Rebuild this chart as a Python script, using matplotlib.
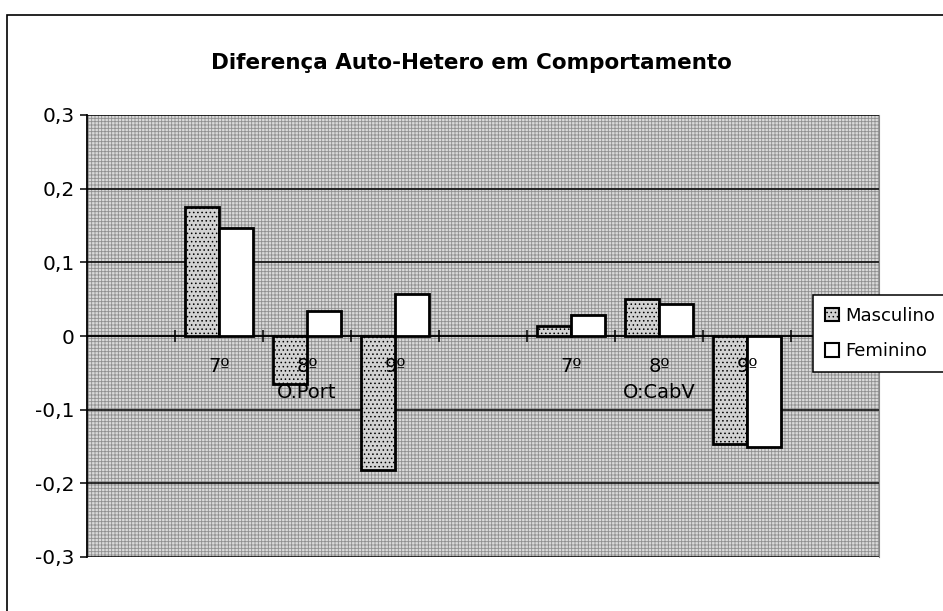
import matplotlib
matplotlib.use("Agg")
import matplotlib.pyplot as plt
import numpy as np
from matplotlib.patches import Rectangle, Patch
from matplotlib.ticker import FixedLocator, FuncFormatter

plt.rcParams['font.family'] = ['DejaVu Sans']
plt.rcParams['hatch.linewidth'] = 0.6

# data
titulo = 'Diferença Auto-Hetero em Comportamento'
anos = ['', '7º', '8º', '9º', '', '7º', '8º', '9º', '']
grupos = ['O.Port', 'O:CabV']
grupo_idx = [[1, 2, 3], [5, 6, 7]]
masculino = [np.nan, 0.175, -0.065, -0.182, np.nan, 0.013, 0.050, -0.147, np.nan]
feminino = [np.nan, 0.146, 0.034, 0.057, np.nan, 0.029, 0.044, -0.151, np.nan]
series = ['Masculino', 'Feminino']
yticks = [-0.3, -0.2, -0.1, 0.0, 0.1, 0.2, 0.3]

fig = plt.figure(figsize=(9.43, 6.11), dpi=100)

# outer chart frame
fig.patches.append(Rectangle((7 / 943, -0.05), 1.2, 1 - 15 / 611 + 0.05,
                             transform=fig.transFigure, fill=False,
                             edgecolor='black', lw=1.2))

ax = fig.add_axes([87 / 943, 1 - 557 / 611, (879 - 87) / 943, (557 - 115) / 611])
ax.patch.set_visible(False)
# dithered grey plot area
ax.add_patch(Rectangle((0, 0), 1, 1, transform=ax.transAxes, facecolor='#dadada',
                       edgecolor='#8f8f8f', lw=0, hatch='+++++', zorder=0))

x = np.arange(len(anos))
w = 0.385
ax.bar(x - w / 2, masculino, w, facecolor='#d2d2d2', edgecolor='black',
       lw=2, hatch='....', zorder=3)
ax.bar(x + w / 2, feminino, w, facecolor='white', edgecolor='black',
       lw=2, zorder=3)

ax.set_xlim(-0.5, len(anos) - 0.5)
ax.set_ylim(-0.3, 0.3)

ax.yaxis.set_major_locator(FixedLocator(yticks))
ax.yaxis.set_major_formatter(FuncFormatter(lambda v, p: ('%.1f' % v).replace('.', ',') if abs(v) > 1e-9 else '0'))
ax.yaxis.grid(True, color='black', lw=1.1)
ax.set_axisbelow(True)
ax.tick_params(axis='y', direction='out', length=5, width=1.1, labelsize=14.5, pad=4)

ax.spines['bottom'].set_position(('data', 0))
ax.spines['bottom'].set_linewidth(1.1)
ax.spines['left'].set_linewidth(1.3)
ax.spines['top'].set_visible(False)
ax.spines['right'].set_color('#888888')
ax.spines['right'].set_linewidth(0.8)

ax.set_xticks(x)
ax.set_xticklabels([])
ax.set_xticks(np.arange(len(anos) - 1) + 0.5, minor=True)
ax.tick_params(axis='x', which='major', length=0)
ax.tick_params(axis='x', which='minor', direction='inout', length=9, width=1.1)

# category labels sit on top of the bars, like in the original
for xi, a in zip(x, anos):
    if a:
        ax.annotate(a, xy=(xi, 0), xytext=(0, -22), textcoords='offset points',
                    ha='center', va='center', fontsize=14, zorder=6)
for g, idx in zip(grupos, grupo_idx):
    ax.annotate(g, xy=(np.mean(idx), 0), xytext=(0, -41), textcoords='offset points',
                ha='center', va='center', fontsize=14, zorder=6)

fig.text(0.5, 1 - 63 / 611, titulo, ha='center', va='center',
         fontsize=15.5, fontweight='bold')

handles = [Patch(facecolor='#d2d2d2', edgecolor='black', hatch='....', lw=1.5),
           Patch(facecolor='white', edgecolor='black', lw=1.5)]
leg = fig.legend(handles, series, loc='upper left',
                 bbox_to_anchor=(813 / 943, 1 - 295 / 611), fontsize=13,
                 frameon=True, fancybox=False, edgecolor='black', framealpha=1,
                 handlelength=0.8, handleheight=0.8, handletextpad=0.35,
                 borderpad=0.65, borderaxespad=0, labelspacing=0.95)
leg.get_frame().set_linewidth(1.1)

fig.savefig('out.png', dpi=100)
